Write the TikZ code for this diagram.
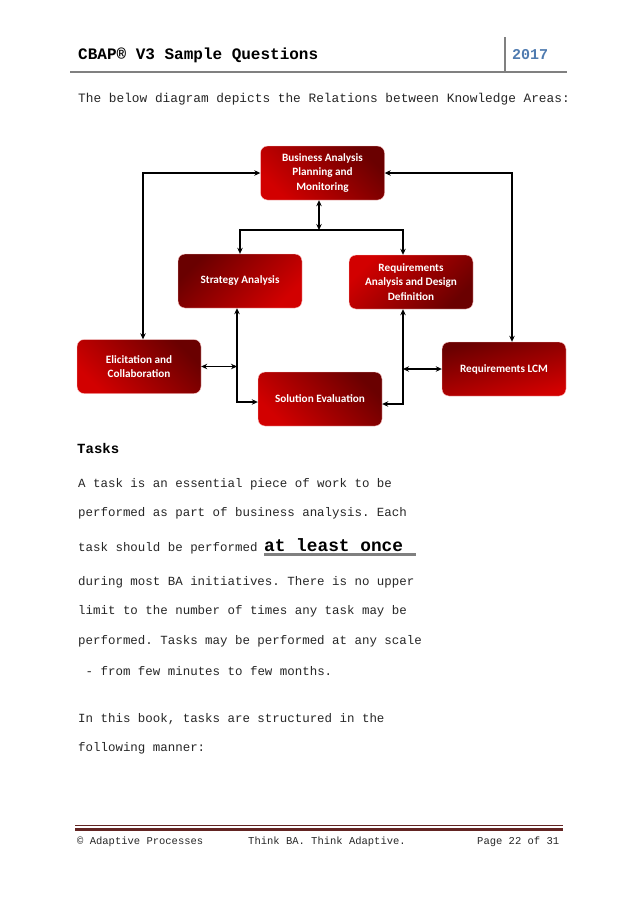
\documentclass[tikz,border=0pt]{standalone}
\usepackage{fontspec}
\setmainfont{Liberation Mono}
\newfontfamily\boxfont{Carlito}
\usetikzlibrary{arrows.meta}
\definecolor{dred}{HTML}{6A0000}
\definecolor{bred}{HTML}{D20000}
\definecolor{hdrblue}{HTML}{4F7BB0}
\definecolor{footred}{HTML}{632523}
\definecolor{rulegray}{HTML}{808080}
\frenchspacing
\tikzset{
  kabox/.style={rounded corners=7pt, minimum width=124pt, minimum height=54pt,
    align=center, text=white, font=\boxfont\bfseries\fontsize{11.2}{14.7}\selectfont,
    draw=red!20!white, line width=0.4pt, inner sep=2pt},
  dkTL/.style={top color=dred, bottom color=bred, shading angle=45},
  dkTR/.style={top color=dred, bottom color=bred, shading angle=-45},
  dkBR/.style={top color=bred, bottom color=dred, shading angle=45},
  dkT/.style={top color=dred, bottom color=bred, shading angle=15},
  tipk/.tip={Stealth[length=6pt,width=5.5pt]},
  link/.style={line width=1.3pt, tipk-tipk},
  onearrow/.style={line width=1.3pt, -tipk},
  txt/.style={anchor=base west, inner sep=0pt, text=black!85,
    font=\fontsize{12.45}{14}\selectfont},
  foot/.style={anchor=base west, inner sep=0pt, text=black!85,
    font=\fontsize{10.5}{12}\selectfont}
}
\begin{document}
\begin{tikzpicture}[x=1pt,y=-1pt]
\useasboundingbox (0,0) rectangle (638,903);
\fill[white] (0,0) rectangle (638,903);

% header
\node[anchor=base west, inner sep=0pt, font=\bfseries\fontsize{16}{18}\selectfont] (hdr) at (78,59) {CBAP® V3 Sample Questions};
\node[anchor=base west, inner sep=0pt, text=hdrblue, font=\bfseries\fontsize{15}{18}\selectfont] (year) at (512,59) {2017};
\draw[rulegray, line width=1.5pt] (505,37) -- (505,71.5);
\draw[rulegray, line width=2pt] (70,71.5) -- (567,71.5);

\node[txt, font=\fontsize{12.8}{14}\selectfont] (intro) at (78,102) {The below diagram depicts the Relations between Knowledge Areas:};

% diagram
\node[kabox, dkTR] (bapm) at (322.5,173) {Business Analysis\\Planning and\\Monitoring};
\node[kabox, dkTL] (sa) at (240,281) {Strategy Analysis};
\node[kabox, dkBR] (radd) at (411,282) {Requirements\\Analysis and Design\\Definition};
\node[kabox, dkTR] (ec) at (139,366.5) {Elicitation and\\Collaboration};
\node[kabox, dkTR] (se) at (320,399) {Solution Evaluation};
\node[kabox, dkT] (lcm) at (504,369) {Requirements LCM};

\coordinate (j1) at (319,230);
\coordinate (lx) at (143,0);
\coordinate (rx2) at (512,0);
\coordinate (lx2) at (237,0);
\coordinate (rx) at (403,0);

\draw[link] (j1 |- bapm.south) -- (j1);
\draw[onearrow] (j1) -| (sa.north);
\draw[onearrow] (j1) -| (radd.north -| rx);
\draw[link] (bapm.west) -| (ec.north -| lx);
\draw[link] (bapm.east) -| (lcm.north -| rx2);
\draw[link] (sa.south -| lx2) |- ([yshift=-3pt]se.west);
\draw[link] (ec.east) -- (ec.east -| lx2);
\draw[link] (radd.south -| rx) |- ([yshift=-5pt]se.east);
\draw[link] (lcm.west) -- (lcm.west -| rx);

% Tasks text
\node[anchor=base west, inner sep=0pt, font=\bfseries\fontsize{14}{16}\selectfont] (tasks) at (77,453) {Tasks};
\node[txt] (l1) at (78,487.5) {A task is an essential piece of work to be};
\node[txt] (l2) at (78,516.5) {performed as part of business analysis. Each};
\node[txt] (l3) at (78,551) {task should be performed};
\node[anchor=base west, inner sep=0pt, font=\bfseries\fontsize{17.8}{20}\selectfont] (once) at (264,551) {at least once};
\draw[rulegray, line width=2.2pt] ([yshift=-3.5pt]once.base west) -- ++(151.5,0);
\node[txt] (l4) at (78,585.5) {during most BA initiatives. There is no upper};
\node[txt] (l5) at (78,614.5) {limit to the number of times any task may be};
\node[txt] (l6) at (78,644.5) {performed. Tasks may be performed at any scale};
\node[txt] (l7) at (85.5,675.5) {- from few minutes to few months.};
\node[txt] (l8) at (78,722.5) {In this book, tasks are structured in the};
\node[txt] (l9) at (78,751.5) {following manner:};

% footer
\draw[footred, line width=0.8pt] (75,825) -- (563,825);
\draw[footred, line width=3pt] (75,829) -- (563,829);
\node[foot] (f1) at (77,844) {© Adaptive Processes};
\node[foot] (f2) at (248,844) {Think BA. Think Adaptive.};
\node[foot] (f3) at (477,844) {Page 22 of 31};
\end{tikzpicture}
\end{document}
